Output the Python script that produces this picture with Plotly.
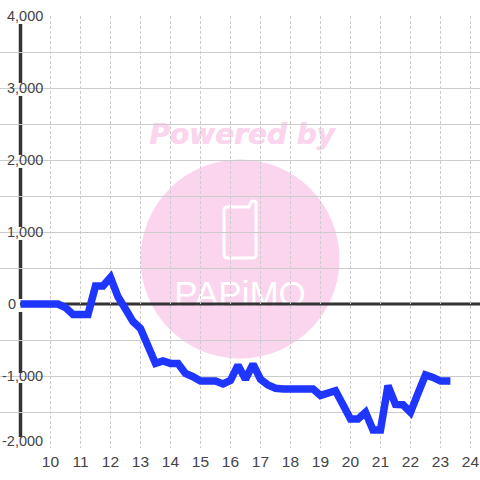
import plotly.graph_objects as go

hours = [9, 10, 10.25, 10.5, 10.75, 11, 11.25, 11.5, 11.75, 12, 12.25, 12.5, 12.75, 13, 13.25, 13.5, 13.75,
         14, 14.25, 14.5, 14.75, 15, 15.25, 15.5, 15.75, 16, 16.25, 16.5, 16.75, 17, 17.25, 17.5, 17.75,
         18, 18.25, 18.5, 18.75, 19, 19.25, 19.5, 19.75, 20, 20.25, 20.5, 20.75, 21, 21.25, 21.5, 21.75,
         22, 22.25, 22.5, 22.75, 23, 23.33]
values = [0, 0, 0, -50, -145, -145, -145, 250, 250, 370, 100, -70, -245, -340, -570, -825, -790,
          -825, -825, -965, -1010, -1070, -1070, -1070, -1110, -1060, -850, -1045, -835, -1045, -1125, -1170, -1180,
          -1180, -1180, -1180, -1180, -1270, -1240, -1205, -1400, -1597, -1597, -1505, -1750, -1750, -1135, -1395, -1400,
          -1505, -1240, -985, -1020, -1070, -1070]
x_ticks = list(range(10, 25))
y_grid = [4000, 3500, 3000, 2500, 2000, 1500, 1000, 500, -500, -1000, -1500, -2000]
y_label_values = [4000, 3000, 2000, 1000, -1000, -2000]
y_label_text = ["4,000", "3,000", "2,000", "1,000", "-1,000", "-2,000"]
y_label_shift = [0, 0, 0, 0, 0, 7]

W, H = 480, 480
L, R, T, B = 0, 0, 16, 32
PW, PH = W - L - R, H - T - B


def px(x):
    return (x - L) / PW


def py(y):
    return 1 - (y - T) / PH


TXT = "#444444"
PINK = "#fbd5ed"
DARK = "#333333"
GRID = "#cccccc"
shapes = [
    dict(type="circle", xref="paper", yref="paper", x0=px(140.5), x1=px(339.5), y0=py(358.5), y1=py(159.5),
         fillcolor=PINK, line_width=0, layer="below"),
    dict(type="path", xref="paper", yref="paper", layer="below", line=dict(color="white", width=3),
         path="M {} {} L {} {} L {} {} Q {} {} {} {} L {} {} Q {} {} {} {} L {} {} Q {} {} {} {} L {} {} Q {} {} {} {} Z".format(
             px(227), py(207), px(249), py(207), px(251), py(202), px(253), py(200), px(256), py(202),
             px(256), py(254), px(256), py(258), px(252), py(258), px(228), py(258), px(224), py(258),
             px(224), py(254), px(224), py(211), px(224), py(207), px(227), py(207))),
    dict(type="rect", xref="paper", yref="paper", x0=px(132), x1=px(352), y0=py(152), y1=py(112),
         line_width=0, fillcolor="rgba(0,0,0,0)", layer="below",
         label=dict(text="<b><i>Powered by</i></b>", textposition="middle center",
                    font=dict(family="DejaVu Sans", size=28, color=PINK, shadow="0.6px 0 0 #fbd5ed"))),
    dict(type="rect", xref="paper", yref="paper", x0=px(160), x1=px(320), y0=py(310), y1=py(270),
         line_width=0, fillcolor="rgba(0,0,0,0)", layer="below",
         label=dict(text="PAPiMO", textposition="middle center",
                    font=dict(family="Liberation Sans", size=35, color="white"))),
    dict(type="rect", xref="paper", yref="paper", x0=0, x1=px(46), y0=0, y1=1,
         fillcolor="white", line_width=0, layer="between"),
    dict(type="line", xref="paper", yref="paper", x0=px(20), x1=1, y0=py(304), y1=py(304),
         line=dict(color=DARK, width=3), layer="between"),
]
for top, bottom in [(24, 83), (96, 155), (168, 227), (240, 299), (312, 373), (383, 437)]:
    shapes.append(dict(type="line", xref="paper", yref="paper", x0=px(20.5), x1=px(20.5), y0=py(top), y1=py(bottom),
                       line=dict(color=DARK, width=3.5), layer="between"))

annotations = [
    dict(text=t, xref="paper", yref="y", x=px(44.5), y=v, yshift=s, xanchor="right", yanchor="middle",
         showarrow=False, font=dict(size=14.5, color=TXT))
    for t, v, s in zip(y_label_text, y_label_values, y_label_shift)
]
annotations.append(dict(text="0", xref="paper", yref="y", x=px(12), y=0, xanchor="center", yanchor="middle",
                        showarrow=False, font=dict(size=14.5, color=TXT)))

fig = go.Figure(go.Scatter(x=hours, y=values, mode="lines",
                           line=dict(color="#1e36ff", width=7.5, shape="linear"), hoverinfo="skip"))
fig.update_layout(
    width=W, height=H, margin=dict(l=L, r=R, t=T, b=B, pad=0), showlegend=False,
    paper_bgcolor="white", plot_bgcolor="white",
    font=dict(family="Liberation Sans", size=15, color=TXT),
    shapes=shapes,
    annotations=annotations,
    xaxis=dict(range=[8.317, 24.317], tickmode="array", tickvals=x_ticks, ticktext=[str(v) for v in x_ticks],
               showgrid=True, gridcolor=GRID, gridwidth=1, griddash="3px,2px", zeroline=False, showline=False,
               ticks="", ticklabelstandoff=2, tickfont=dict(size=15.5, color=TXT)),
    yaxis=dict(range=[-2000, 4000], tickmode="array", tickvals=y_grid, showticklabels=False,
               showgrid=True, gridcolor=GRID, gridwidth=1, zeroline=False, showline=False,
               ticks=""),
)
fig.write_html("out.html", config=dict(displayModeBar=False),
               post_script="document.body.style.margin='0';")
